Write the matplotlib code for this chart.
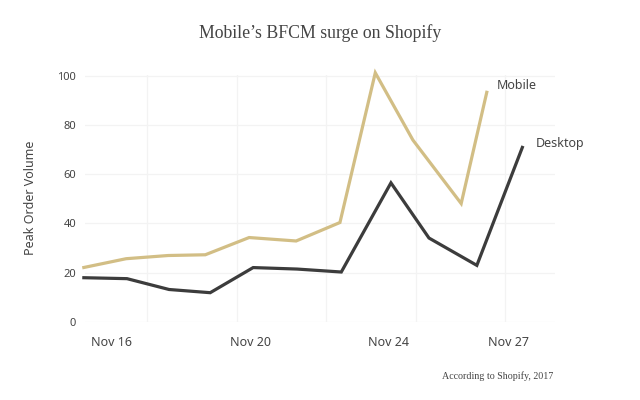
import matplotlib
matplotlib.use("Agg")
import matplotlib.pyplot as plt

# x positions in day units (gridlines fall on odd integers)
desktop_x = [-0.45, 0.55, 1.49, 2.41, 3.37, 4.35, 5.34, 6.45, 7.30, 8.37, 9.40]
desktop_y = [18.0, 17.6, 13.2, 11.9, 22.1, 21.5, 20.3, 56.5, 34.1, 23.0, 71.5]
mobile_x = [-0.45, 0.53, 1.47, 2.30, 3.28, 4.33, 5.31, 6.10, 6.94, 8.02, 8.60]
mobile_y = [22.0, 25.7, 27.0, 27.3, 34.3, 32.9, 40.4, 101.2, 73.9, 48.1, 93.9]

tick_pos = [0.20, 3.32, 6.40, 9.08]
tick_labels = ["Nov 16", "Nov 20", "Nov 24", "Nov 27"]
grid_pos = [1, 3, 5, 7, 9]
y_ticks = [0, 20, 40, 60, 80, 100]

SANS = ["Noto Sans", "DejaVu Sans"]
SERIF = ["Liberation Serif", "DejaVu Serif"]
TXT = "#444444"
MOBILE_C = "#D2BE85"
DESK_C = "#3c3c3c"

fig = plt.figure(figsize=(6.4, 4.0), dpi=100)
ax = fig.add_axes([84.5 / 640, 1 - 322 / 400, (555 - 84.5) / 640, (322 - 75) / 400])

ax.plot(mobile_x, mobile_y, color=MOBILE_C, lw=2.3, clip_on=False,
        solid_joinstyle="miter", solid_capstyle="butt")
ax.plot(desktop_x, desktop_y, color=DESK_C, lw=2.3, clip_on=False,
        solid_joinstyle="miter", solid_capstyle="butt")

ax.set_xlim(-0.40, 10.117)
ax.set_ylim(0, 100.3)

ax.set_xticks(tick_pos)
ax.set_xticklabels(tick_labels, family=SANS, fontsize=9, color=TXT)
ax.set_xticks(grid_pos, minor=True)
ax.set_yticks(y_ticks)
ax.set_yticklabels([str(v) for v in y_ticks], family=SANS, fontsize=8, color=TXT)
ax.tick_params(axis="x", which="both", length=0, pad=10)
ax.tick_params(axis="y", length=0, pad=6)
ax.grid(False)
ax.xaxis.grid(True, which="minor", color="#f3f3f3", lw=0.9)
ax.yaxis.grid(True, which="major", color="#f3f3f3", lw=0.9)
ax.set_axisbelow(True)
for s in ax.spines.values():
    s.set_visible(False)

# series labels at line ends
ax.annotate("Mobile", xy=(mobile_x[-1], mobile_y[-1]), xytext=(7, 4),
            textcoords="offset points", family=SANS, fontsize=9, color=TXT,
            ha="left", va="center")
ax.annotate("Desktop", xy=(desktop_x[-1], desktop_y[-1]), xytext=(9, 2),
            textcoords="offset points", family=SANS, fontsize=9, color=TXT,
            ha="left", va="center")

fig.text(30 / 640, 1 - 198 / 400, "Peak Order Volume", rotation=90,
         family=SANS, fontsize=9, color=TXT, ha="center", va="center")
fig.text(320 / 640, 1 - 33 / 400, "Mobile\u2019s BFCM surge on Shopify",
         family=SERIF, fontsize=12.8, color=TXT, ha="center", va="center")
fig.text(553 / 640, 1 - 376 / 400, "According to Shopify, 2017",
         family=SERIF, fontsize=7.2, color=TXT, ha="right", va="center")

fig.savefig("out.png", dpi=100, facecolor="white")
